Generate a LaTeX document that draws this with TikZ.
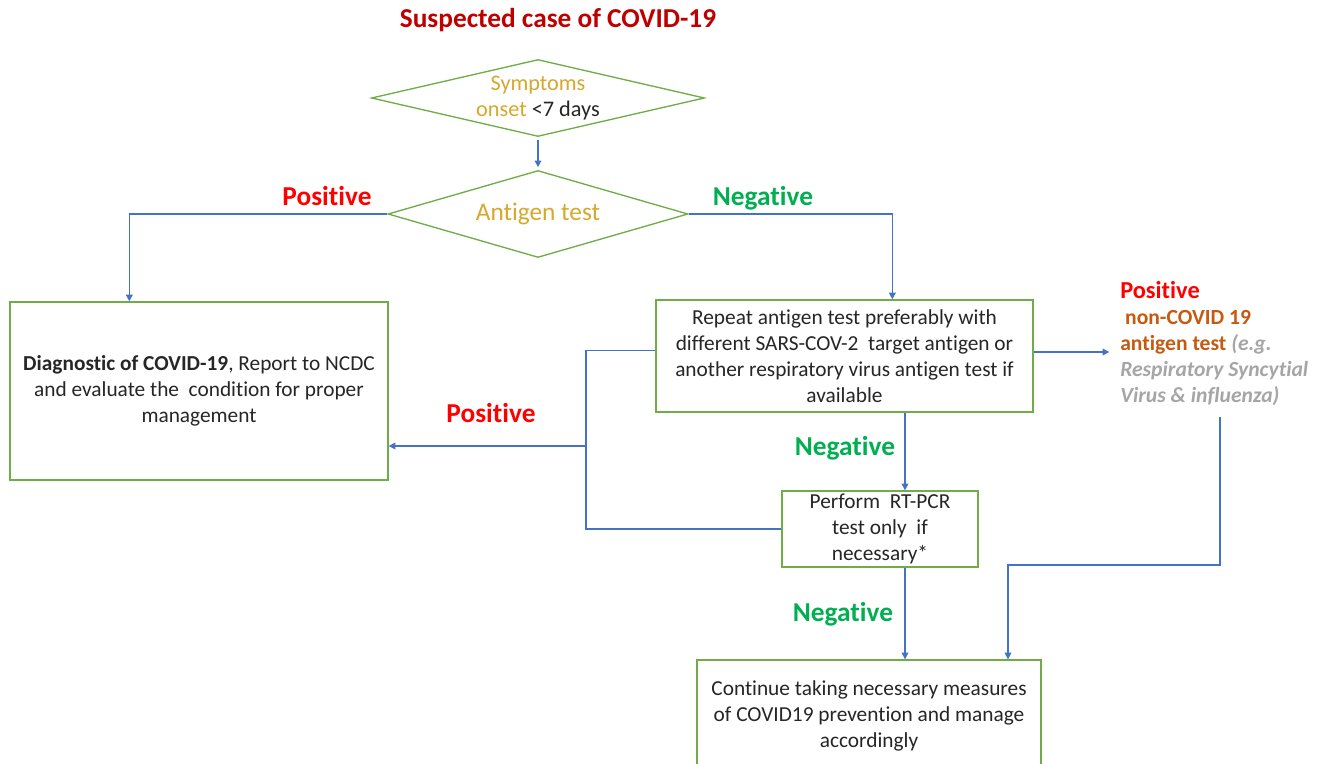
\documentclass[tikz,border=0pt]{standalone}
\usepackage{fontspec}
\setmainfont{Carlito}[RawFeature={-liga;-clig;-calt;-dlig}]
\usetikzlibrary{shapes.geometric,arrows.meta,calc}
\definecolor{boxgreen}{RGB}{112,173,71}
\definecolor{arrblue}{RGB}{68,114,196}
\definecolor{titlered}{RGB}{192,0,0}
\definecolor{posred}{RGB}{255,0,0}
\definecolor{neggreen}{RGB}{0,176,80}
\definecolor{goldtxt}{RGB}{214,168,44}
\definecolor{orangetxt}{RGB}{197,90,17}
\definecolor{graytxt}{RGB}{166,166,166}
\definecolor{darktxt}{RGB}{38,38,38}
\begin{document}
\begin{tikzpicture}[x=0.75pt,y=-0.75pt,
  every node/.style={font=\fontsize{16}{19.5}\selectfont, text=darktxt},
  box/.style={draw=boxgreen, line width=1pt, rectangle, align=center, inner sep=0pt},
  dec/.style={draw=boxgreen, line width=1pt, diamond, shape aspect=4, inner sep=0pt, align=center},
  arr/.style={draw=arrblue, line width=1pt, -{Triangle[length=5pt,width=5pt]}},
  conn/.style={draw=arrblue, line width=1pt},
  lab/.style={font=\fontsize{20.5}{24}\selectfont\bfseries, inner sep=0pt},
]
\clip (0,0) rectangle (1325,764);
\fill[white] (0,0) rectangle (1325,764);

% title
\node[font=\fontsize{20.5}{24}\selectfont\bfseries, text=titlered] (title) at (558,20) {Suspected case of COVID-19};

% decisions
\node[dec, minimum width=249.75pt, minimum height=57.75pt, font=\fontsize{16.7}{19.5}\selectfont] (d1) at (538,98)
  {\textcolor{goldtxt}{Symptoms}\\\textcolor{goldtxt}{onset} \textless7 days};
\node[dec, minimum width=225pt, minimum height=65.25pt, font=\fontsize{19}{22}\selectfont, text=goldtxt] (d2) at (538,214)
  {Antigen test};

% boxes
\node[box, minimum width=283.5pt, minimum height=133.5pt] (b1) at (199,391)
  {\textbf{Diagnostic of COVID-19}, Report to NCDC\\and evaluate the\ \ condition for proper\\management};
\node[box, minimum width=282.75pt, minimum height=84pt] (b2) at (844.5,356)
  {Repeat antigen test preferably with\\different SARS-COV-2\ \ target antigen or\\another respiratory virus antigen test if\\available};
\node[box, minimum width=147pt, minimum height=57pt] (b3) at (880,529)
  {Perform\ \ RT-PCR\\test only\ \ if\\necessary*};
\node[box, minimum width=258pt, minimum height=84pt] (b4) at (869,716)
  {Continue taking necessary measures\\of COVID19 prevention and manage\\accordingly};

% right text block
\node[anchor=north west, align=left, inner sep=0pt, font=\fontsize{16.2}{19.5}\selectfont\bfseries] (rt) at (1120,281)
  {\textcolor{posred}{\fontsize{18.3}{19.5}\selectfont Positive}\\
   \textcolor{orangetxt}{\ non-COVID 19}\\
   \textcolor{orangetxt}{antigen test} \textcolor{graytxt}{\itshape(e.g.}\\
   \textcolor{graytxt}{\itshape Respiratory Syncytial}\\
   \textcolor{graytxt}{\itshape Virus \& influenza)}};

% labels
\node[lab, text=posred] (l1) at (327,196) {Positive};
\node[lab, text=neggreen] (l2) at (763,198) {Negative};
\node[lab, text=posred] (l3) at (491,413) {Positive};
\node[lab, text=neggreen] (l4) at (845,448) {Negative};
\node[lab, text=neggreen] (l5) at (843,614) {Negative};

% helper coordinates
\coordinate (vx) at (905,0);
\coordinate (jx) at (586,446);
\coordinate (c1) at (1220,565);
\coordinate (vx2) at (1008,0);

% connectors
\draw[arr, shorten <=2pt, shorten >=2pt] (d1.south) -- (d2.north);
\draw[arr] (d2.west) -| ([xshift=90pt]b1.north west);
\draw[arr] (d2.east) -| ([xshift=177.75pt]b2.north west);
\draw[arr, shorten >=8pt] ([yshift=3pt]b2.east) -- ([yshift=3pt]b2.east -| rt.west);
\draw[arr] (b2.south -| vx) -- (b3.north -| vx);
\draw[conn] (b3.west) -| (jx) |- ([yshift=4pt]b2.west);
\draw[arr] (jx) -- (jx -| b1.east);
\draw[arr] (b3.south -| vx) -- (b4.north -| vx);
\draw[arr] ([yshift=-8pt]rt.south -| c1) -- (c1) -| (b4.north -| vx2);
\end{tikzpicture}
\end{document}
